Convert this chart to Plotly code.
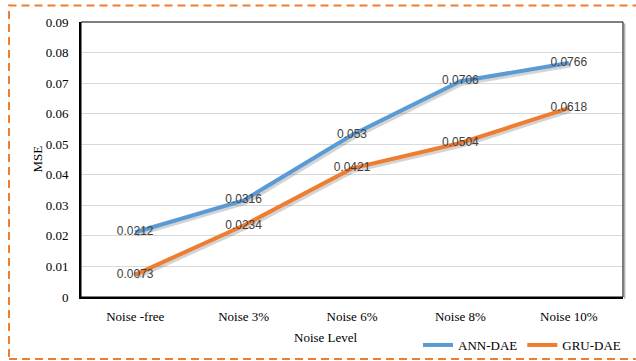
import plotly.graph_objects as go

# Noise levels on the x axis and MSE of each denoising autoencoder
noise_levels = ["Noise -free", "Noise 3%", "Noise 6%", "Noise 8%", "Noise 10%"]
ann_dae = [0.0212, 0.0316, 0.053, 0.0706, 0.0766]
gru_dae = [0.0073, 0.0234, 0.0421, 0.0504, 0.0618]
y_ticks = [0, 0.01, 0.02, 0.03, 0.04, 0.05, 0.06, 0.07, 0.08, 0.09]

BLUE = "#5B9BD5"
ORANGE = "#ED7D31"
SERIF = "Liberation Serif"
SANS = "Liberation Sans"

W, H = 636, 361
ML, MR, MT, MB = 81, 13, 22, 64
plot_w = W - ML - MR
plot_h = H - MT - MB

x_range = [-0.5, 4.5]
y_range = [0, 0.09]
# pixel offset for the drop shadow under each line
dx = 1.5 * (x_range[1] - x_range[0]) / plot_w
dy = 2.0 * (y_range[1] - y_range[0]) / plot_h

fig = go.Figure()

series = [("ANN-DAE", ann_dae, BLUE), ("GRU-DAE", gru_dae, ORANGE)]

# invisible trace so the base axes get their categories and ticks
fig.add_trace(go.Scatter(
    x=noise_levels, y=ann_dae, mode="lines", opacity=0,
    line=dict(width=0), showlegend=False, hoverinfo="skip",
))

# soft shadows on an overlay axis pair shifted down/right
for name, vals, col in series:
    fig.add_trace(go.Scatter(
        x=noise_levels, y=vals, mode="lines",
        line=dict(color="rgba(60,60,60,0.22)", width=5),
        xaxis="x2", yaxis="y2", showlegend=False, hoverinfo="skip",
    ))

# main lines with value labels
for name, vals, col in series:
    fig.add_trace(go.Scatter(
        x=noise_levels, y=vals, mode="lines+text", name=name,
        line=dict(color=col, width=4),
        text=[str(v) for v in vals], textposition="middle center",
        textfont=dict(family=SANS, size=12, color="#404040"),
        xaxis="x3", yaxis="y3", cliponaxis=False,
    ))

axis_common = dict(showgrid=False, zeroline=False, showticklabels=False,
                   showline=False, ticks="")

fig.update_layout(
    width=W, height=H,
    margin=dict(l=ML, r=MR, t=MT, b=MB, autoexpand=False),
    paper_bgcolor="white", plot_bgcolor="white",
    xaxis=dict(
        type="category", categoryorder="array", categoryarray=noise_levels,
        range=x_range, showgrid=False, zeroline=False,
        showline=True, linecolor="black", linewidth=2,
        ticks="", ticklabelstandoff=6,
        tickfont=dict(family=SERIF, size=13, color="black"),
    ),
    yaxis=dict(
        range=y_range, tickvals=y_ticks, ticktext=[str(t) for t in y_ticks],
        showgrid=True, gridcolor="#D9D9D9", gridwidth=1, zeroline=False,
        showline=True, linecolor="black", linewidth=2,
        ticks="", ticklabelstandoff=8,
        tickfont=dict(family=SERIF, size=13, color="black"),
    ),
    xaxis2=dict(overlaying="x", type="category", categoryorder="array",
                categoryarray=noise_levels,
                range=[x_range[0] - dx, x_range[1] - dx], **axis_common),
    yaxis2=dict(overlaying="y", range=[y_range[0] + dy, y_range[1] + dy],
                **axis_common),
    xaxis3=dict(overlaying="x", type="category", categoryorder="array",
                categoryarray=noise_levels, range=x_range, **axis_common),
    yaxis3=dict(overlaying="y", range=y_range, **axis_common),
    showlegend=True,
    legend=dict(
        orientation="h", xref="container", yref="container",
        x=626 / W, xanchor="right", y=1 - 345 / H, yanchor="middle",
        font=dict(family=SERIF, size=13, color="black"),
        bgcolor="rgba(0,0,0,0)", itemwidth=30, tracegroupgap=0,
    ),
)

# thin frame around the plot area
fig.add_shape(type="rect", xref="paper", yref="paper", x0=0, y0=0, x1=1, y1=1,
              line=dict(color="black", width=1), layer="above")
fig.add_shape(type="line", xref="paper", yref="paper", x0=1.003, y0=-0.005,
              x1=1.003, y1=0.995, line=dict(color="rgba(80,80,80,0.45)", width=1.5),
              layer="above")

# dashed orange border around the whole chart
fig.add_shape(
    type="rect", xref="paper", yref="paper",
    x0=(9 - ML) / plot_w, x1=(642 - ML) / plot_w,
    y0=(MT + plot_h - 359) / plot_h, y1=(MT + plot_h - 5.5) / plot_h,
    line=dict(color=ORANGE, width=2, dash="8px,5px"),
)

fig.add_annotation(text="MSE", xref="paper", yref="paper",
                   x=(37 - ML) / plot_w, y=0.5, textangle=-90, showarrow=False,
                   xanchor="center", yanchor="middle",
                   font=dict(family=SERIF, size=13, color="black"))
fig.add_annotation(text="Noise Level", xref="paper", yref="paper",
                   x=(326 - ML) / plot_w, y=(MT + plot_h - 337) / plot_h,
                   showarrow=False, xanchor="center", yanchor="middle",
                   font=dict(family=SERIF, size=13, color="black"))

fig.write_html("out.html")
